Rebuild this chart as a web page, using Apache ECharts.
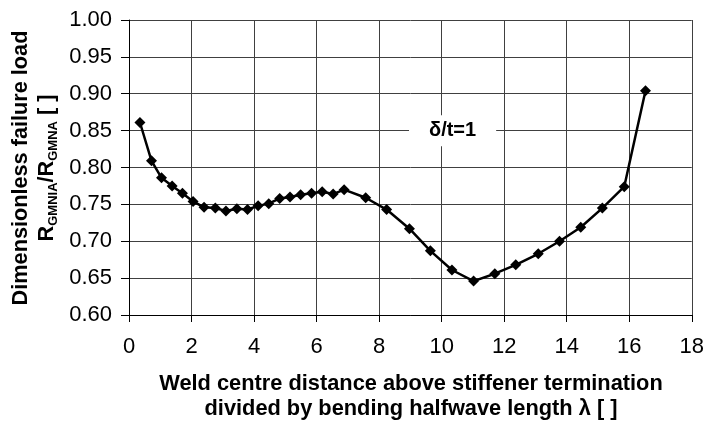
<!DOCTYPE html>
<html>
<head>
<meta charset="utf-8">
<script src="https://cdn.jsdelivr.net/npm/echarts@6/dist/echarts.min.js"></script>
<style>html,body{margin:0;padding:0;background:#fff;}#c{width:707px;height:422px;}</style>
</head>
<body>
<div id="c"></div>
<script>
// Data
const xValues = [0.35, 0.72, 1.04, 1.38, 1.71, 2.05, 2.40, 2.76, 3.10, 3.45, 3.79, 4.13, 4.47, 4.82, 5.15, 5.49, 5.84, 6.18, 6.53, 6.88, 7.57, 8.24, 8.97, 9.64, 10.33, 11.02, 11.70, 12.37, 13.09, 13.77, 14.45, 15.14, 15.84, 16.52];
const yValues = [0.861, 0.809, 0.786, 0.775, 0.765, 0.754, 0.746, 0.745, 0.741, 0.744, 0.743, 0.748, 0.751, 0.758, 0.760, 0.763, 0.765, 0.767, 0.764, 0.770, 0.759, 0.743, 0.717, 0.687, 0.661, 0.646, 0.656, 0.668, 0.683, 0.700, 0.719, 0.745, 0.774, 0.904];
const annotationText = 'δ/t=1';
const annotationPos = [10.35, 0.85];
const xTitle1 = 'Weld centre distance above stiffener termination';
const xTitle2 = 'divided by bending halfwave length λ [ ]';

const FONT = '"Liberation Sans", Arial, sans-serif';
const chart = echarts.init(document.getElementById('c'), null, {renderer: 'canvas'});
const seriesData = xValues.map((x, i) => [x, yValues[i]]);

const option = {
  animation: false,
  backgroundColor: '#fff',
  grid: {left: 129, right: 14, top: 20, bottom: 107, containLabel: false},
  xAxis: {
    type: 'value', min: 0, max: 18, interval: 2,
    axisLine: {show: true, lineStyle: {color: '#000', width: 1}},
    axisTick: {show: true, inside: false, length: 7, lineStyle: {color: '#000'}},
    axisLabel: {fontFamily: FONT, fontSize: 22, color: '#000', margin: 21},
    splitLine: {show: true, lineStyle: {color: '#404040', width: 1}}
  },
  yAxis: {
    type: 'value', min: 0.6, max: 1.0, interval: 0.05,
    axisLine: {show: true, lineStyle: {color: '#000', width: 1}},
    axisTick: {show: true, inside: false, length: 8, lineStyle: {color: '#000'}},
    axisLabel: {fontFamily: FONT, fontSize: 22, color: '#000', margin: 17,
      formatter: v => v.toFixed(2)},
    splitLine: {show: true, lineStyle: {color: '#404040', width: 1}}
  },
  series: [{
    type: 'line',
    data: seriesData,
    symbol: 'diamond',
    symbolSize: 11,
    lineStyle: {color: '#000', width: 2.5},
    itemStyle: {color: '#000'},
    markPoint: {
      symbol: 'rect', symbolSize: 1,
      itemStyle: {color: 'rgba(0,0,0,0)'},
      data: [{coord: annotationPos}],
      label: {
        show: true, position: 'inside',
        formatter: annotationText,
        fontFamily: FONT, fontWeight: 'bold', fontSize: 20, color: '#000',
        backgroundColor: '#fff', padding: [6, 20, 5, 20]
      }
    }
  }],
  graphic: [
    {
      type: 'text', x: 34, y: 168, rotation: Math.PI / 2,
      style: {
        text: '{b|Dimensionless failure load}\n{b|R}{s|GMNIA}{b|/R}{s|GMNA}{b| [ ]}',
        align: 'center', verticalAlign: 'middle',
        rich: {
          b: {fontFamily: FONT, fontWeight: 'bold', fontSize: 21.7, fill: '#000', lineHeight: 26, verticalAlign: 'middle'},
          s: {fontFamily: FONT, fontWeight: 'bold', fontSize: 13, fill: '#000', lineHeight: 26, verticalAlign: 'bottom'}
        }
      }
    },
    {
      type: 'text', x: 411, y: 383.5,
      style: {text: xTitle1, fontFamily: FONT, fontWeight: 'bold', fontSize: 21.8, fill: '#000', align: 'center', verticalAlign: 'middle'}
    },
    {
      type: 'text', x: 411, y: 409,
      style: {text: xTitle2, fontFamily: FONT, fontWeight: 'bold', fontSize: 21.8, fill: '#000', align: 'center', verticalAlign: 'middle'}
    }
  ]
};
chart.setOption(option);
</script>
</body>
</html>
